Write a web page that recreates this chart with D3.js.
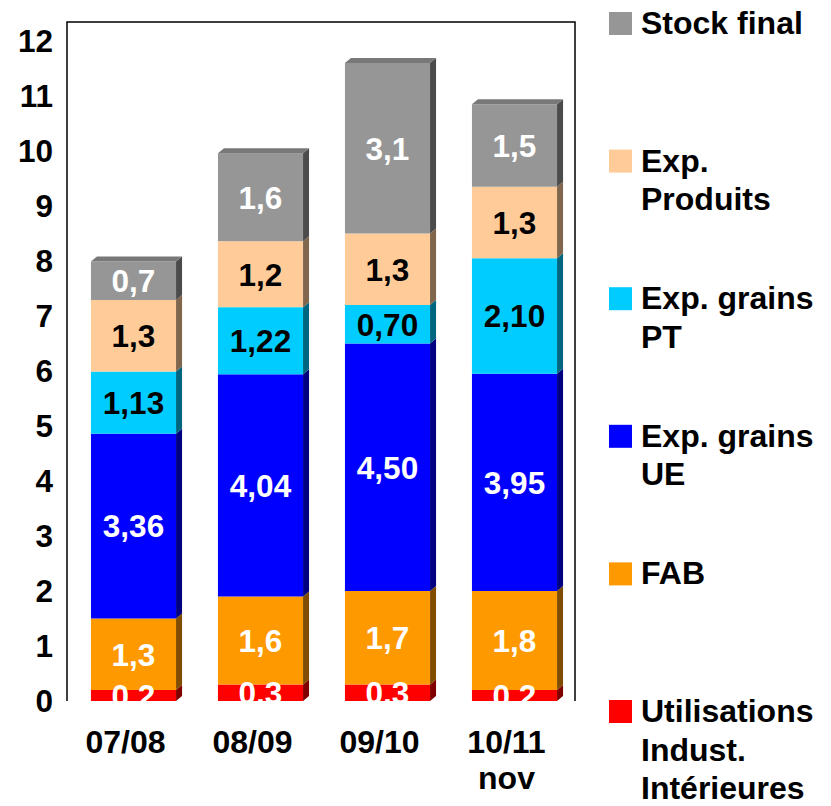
<!DOCTYPE html>
<html>
<head>
<meta charset="utf-8">
<script src="https://cdn.jsdelivr.net/npm/d3@7"></script>
<style>
  body { margin: 0; background: #fff; }
  text { font-family: "Liberation Sans", Arial, sans-serif; font-weight: bold; }
</style>
</head>
<body>
<svg id="chart" width="831" height="806"></svg>
<script>
// categories and series, bottom to top
var categories = ["07/08", "08/09", "09/10", "10/11\nnov"];
var seriesNames = ["Utilisations\nIndust.\nIntérieures", "FAB", "Exp. grains\nUE", "Exp. grains\nPT", "Exp.\nProduits", "Stock final"];
var utilisations = [0.2, 0.3, 0.3, 0.2];
var fab = [1.3, 1.6, 1.7, 1.8];
var expUE = [3.36, 4.04, 4.50, 3.95];
var expPT = [1.13, 1.22, 0.70, 2.10];
var expProduits = [1.3, 1.2, 1.3, 1.3];
var stockFinal = [0.7, 1.6, 3.1, 1.5];
var labels = [
  ["0,2", "0,3", "0,3", "0,2"],
  ["1,3", "1,6", "1,7", "1,8"],
  ["3,36", "4,04", "4,50", "3,95"],
  ["1,13", "1,22", "0,70", "2,10"],
  ["1,3", "1,2", "1,3", "1,3"],
  ["0,7", "1,6", "3,1", "1,5"]
];
var yTicks = [0, 1, 2, 3, 4, 5, 6, 7, 8, 9, 10, 11, 12];

var colors = ["#FF0000", "#FF9900", "#0000FF", "#00CCFF", "#FFCC99", "#969696"];
var labelColors = ["#fff", "#fff", "#fff", "#000", "#000", "#fff"];

var series = [utilisations, fab, expUE, expPT, expProduits, stockFinal];

var svg = d3.select("#chart");
var frameL = 67, frameR = 575, frameT = 22, base = 701;
var dx = 6, dy = -5;

var y = d3.scaleLinear().domain([0, 12]).range([base, 41]);
var x = d3.scaleBand().domain(categories).range([70, 578]).paddingInner(0.33).paddingOuter(0.165);

// table for stack
var table = categories.map(function(c, i) {
  var row = { cat: c };
  series.forEach(function(s, k) { row["s" + k] = s[i]; });
  return row;
});
var keys = series.map(function(s, k) { return "s" + k; });
var stacked = d3.stack().keys(keys)(table);

// frame
svg.append("path")
  .attr("d", "M" + frameL + "," + base + "V" + frameT + "H" + frameR + "V" + base)
  .attr("fill", "none").attr("stroke", "#000").attr("stroke-width", 1.5);

svg.append("defs").append("clipPath").attr("id", "clip")
  .append("rect").attr("x", 0).attr("y", 0).attr("width", 831).attr("height", base);

var bars = svg.append("g");
stacked.forEach(function(layer, k) {
  var c = d3.color(colors[k]);
  var g = bars.append("g");
  layer.forEach(function(d, i) {
    var x0 = x(categories[i]), w = x.bandwidth();
    var yt = y(d[1]), yb = y(d[0]);
    g.append("rect").attr("x", x0).attr("y", yt).attr("width", w).attr("height", yb - yt)
      .attr("fill", colors[k]);
    g.append("path")
      .attr("d", "M" + (x0 + w) + "," + yb + "L" + (x0 + w + dx) + "," + (yb + dy) +
        "L" + (x0 + w + dx) + "," + (yt + dy) + "L" + (x0 + w) + "," + yt + "Z")
      .attr("fill", d3.rgb(c.r * 0.5, c.g * 0.5, c.b * 0.5));
    if (k === stacked.length - 1) {
      g.append("path")
        .attr("d", "M" + x0 + "," + yt + "L" + (x0 + dx) + "," + (yt + dy) +
          "L" + (x0 + w + dx) + "," + (yt + dy) + "L" + (x0 + w) + "," + yt + "Z")
        .attr("fill", d3.rgb(c.r * 0.8, c.g * 0.8, c.b * 0.8));
    }
  });
});

// value labels
var lab = svg.append("g").attr("clip-path", "url(#clip)");
stacked.forEach(function(layer, k) {
  layer.forEach(function(d, i) {
    lab.append("text")
      .attr("x", x(categories[i]) + x.bandwidth() / 2)
      .attr("y", (y(d[0]) + y(d[1])) / 2)
      .attr("dy", "0.36em")
      .attr("text-anchor", "middle")
      .attr("font-size", 31.5)
      .attr("fill", labelColors[k])
      .text(labels[k][i]);
  });
});

// y axis labels
svg.append("g").selectAll("text").data(yTicks).enter().append("text")
  .attr("x", 53).attr("y", function(d) { return y(d); })
  .attr("dy", "0.36em").attr("text-anchor", "end")
  .attr("font-size", 31.5).attr("fill", "#000")
  .text(function(d) { return d; });

// x axis labels
var xl = svg.append("g").selectAll("text").data(categories).enter().append("text")
  .attr("x", function(d) { return x(d) + x.bandwidth() / 2 - 8; })
  .attr("y", 753).attr("text-anchor", "middle")
  .attr("font-size", 32).attr("fill", "#000");
xl.each(function(d) {
  var t = d3.select(this), px = t.attr("x");
  d.split("\n").forEach(function(line, j) {
    t.append("tspan").attr("x", px).attr("dy", j ? 36 : 0).text(line);
  });
});

// legend, top to bottom
var legendOrder = d3.range(seriesNames.length).reverse();
var leg = svg.append("g").selectAll("g").data(legendOrder).enter().append("g")
  .attr("transform", function(k, i) { return "translate(609," + (12 + i * 137.6) + ")"; });
leg.append("rect").attr("width", 23).attr("height", 23).attr("fill", function(k) { return colors[k]; });
leg.append("text").attr("x", 32).attr("y", 22).attr("font-size", 32).attr("fill", "#000")
  .each(function(k) {
    var t = d3.select(this);
    seriesNames[k].split("\n").forEach(function(line, j) {
      t.append("tspan").attr("x", 32).attr("dy", j ? 38.5 : 0).text(line);
    });
  });
</script>
</body>
</html>
